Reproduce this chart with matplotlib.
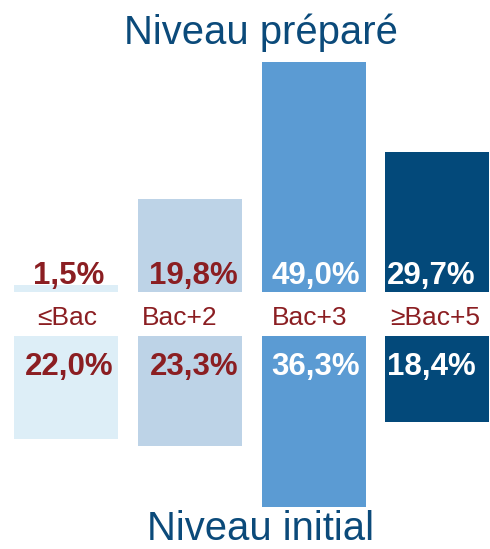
import matplotlib
matplotlib.use("Agg")
import matplotlib.pyplot as plt

categories = ["≤Bac", "Bac+2", "Bac+3", "≥Bac+5"]
prepare = [1.5, 19.8, 49.0, 29.7]
initial = [22.0, 23.3, 36.3, 18.4]
prepare_labels = ["1,5%", "19,8%", "49,0%", "29,7%"]
initial_labels = ["22,0%", "23,3%", "36,3%", "18,4%"]

colors = ["#DDEEF7", "#BDD3E7", "#5B9BD3", "#03497A"]
label_colors = ["#8B1E22", "#8B1E22", "white", "white"]
red = "#8B1E22"
blue_title = "#0B4A7A"

W, H = 490, 549
fig = plt.figure(figsize=(W / 100, H / 100), dpi=100)
ax = fig.add_axes([0, 0, 1, 1])
ax.set_axis_off()

scale = 4.7          # px per unit
base_px = 257        # top baseline, px from bottom
gap = 44 / scale     # gap between top and bottom baselines
x0, dx = 66, 123.8
ax.set_xlim(-x0 / dx, (W - x0) / dx)
ax.set_ylim(-base_px / scale, (H - base_px) / scale)

# horizontal nudges (px) of labels relative to bar centres
val_off = [3, 4, 2, -6]
cat_off = [1.5, -9.8, -4, -2.4]

x = list(range(len(categories)))
ax.bar(x, prepare, width=0.84, bottom=0, color=colors)
ax.bar(x, initial, width=0.84, bottom=[-gap - v for v in initial], color=colors)

num_font = dict(family=["Liberation Sans", "DejaVu Sans"],
                fontweight="bold", fontsize=22.5)
for i in x:
    ax.text(i + val_off[i] / dx, 1.8, prepare_labels[i], ha="center", va="baseline",
            color=label_colors[i], **num_font)
    ax.text(i + val_off[i] / dx, -(375 - 292) / scale, initial_labels[i],
            ha="center", va="baseline", color=label_colors[i], **num_font)
    ax.text(i + cat_off[i] / dx, -(318 - 292) / scale, categories[i],
            ha="center", va="center", color=red, fontsize=19,
            family=["Liberation Sans", "DejaVu Sans"])

fig.text(261 / W, 1 - 44 / H, "Niveau préparé", ha="center", va="baseline",
         color=blue_title, fontsize=28.8, family=["Liberation Sans", "DejaVu Sans"])
fig.text(260 / W, 1 - 540 / H, "Niveau initial", ha="center", va="baseline",
         color=blue_title, fontsize=28.8, family=["Liberation Sans", "DejaVu Sans"])

fig.savefig("out.png", dpi=100, facecolor="white")
